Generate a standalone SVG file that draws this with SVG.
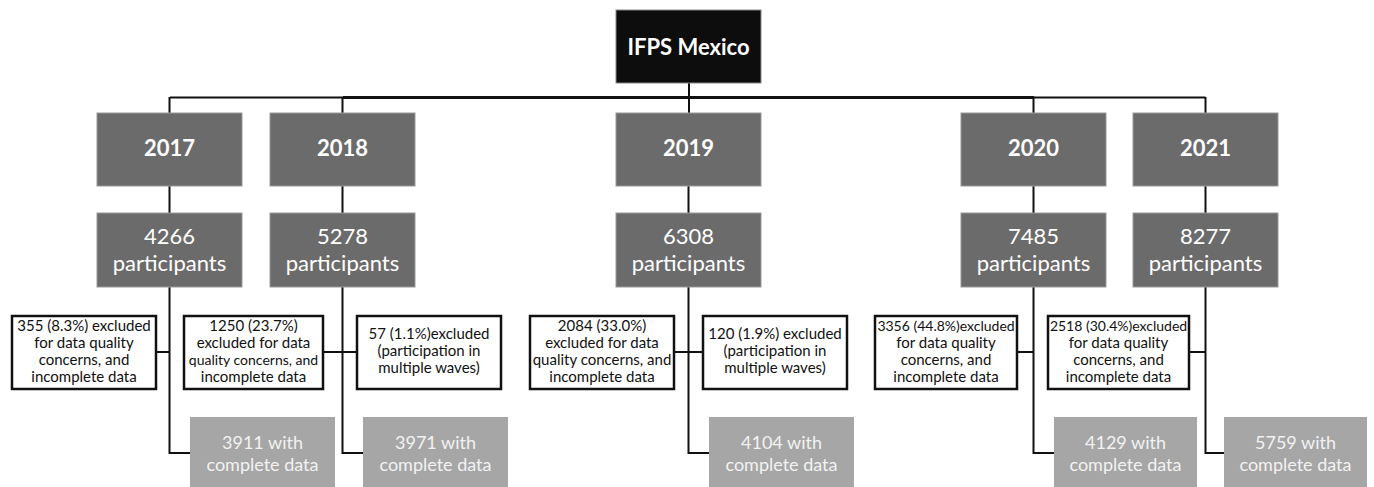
<svg xmlns="http://www.w3.org/2000/svg" width="1374" height="487" viewBox="0 0 1374 487">
<style>
.top{fill:#0d0d0d;stroke:#888;stroke-width:1}
.dark{fill:#6b6b6b;stroke:#999;stroke-width:1}
.exc{fill:#fff;stroke:#111;stroke-width:2.5}
.light{fill:#a6a6a6}
.t{font-family:Lato,"Liberation Sans",sans-serif;text-anchor:middle}
.tw{fill:#fff}
.yr{font-size:22px;font-weight:bold}
.pp{font-size:22px}
.ex{font-size:15px;fill:#111}
.sm{font-size:14px}
.cd{font-size:18px;fill:#f2f2f2}
.ln{fill:none;stroke:#111;stroke-width:2}
</style>
<g id="connectors">
<path class="ln" d="M689 83V113"/>
<path class="ln" d="M170 97.5H1205.5"/>
<path class="ln" style="stroke-width:3" d="M343 97.5H1034"/>
<path class="ln" d="M169.5 97V113M342.5 97V113M1033.5 97V113M1205.5 97V113"/>
<path class="ln" d="M169.5 186V213M342.5 186V213M688.5 186V213M1033.5 186V213M1205.5 186V213"/>
<path class="ln" d="M169.5 287V453H190"/>
<path class="ln" d="M342.5 287V453H363"/>
<path class="ln" d="M688.5 287V453H709"/>
<path class="ln" d="M1033.5 287V453H1054"/>
<path class="ln" d="M1205.5 287V453H1224"/>
<path class="ln" d="M156 352H169.5"/>
<path class="ln" d="M323 352H357"/>
<path class="ln" d="M674 352H703"/>
<path class="ln" d="M1017 352H1033.5"/>
<path class="ln" d="M1189 352H1205.5"/>
</g>
<g id="root"><rect class="top" x="616" y="10" width="145" height="73"/><text class="t tw yr" x="688.5" y="55">IFPS Mexico</text></g>
<g id="y2017"><rect class="dark" x="97" y="113" width="145" height="73"/><text class="t tw yr" x="169.5" y="156">2017</text></g>
<g id="y2018"><rect class="dark" x="270" y="113" width="145" height="73"/><text class="t tw yr" x="342.5" y="156">2018</text></g>
<g id="y2019"><rect class="dark" x="616" y="113" width="145" height="73"/><text class="t tw yr" x="688.5" y="156">2019</text></g>
<g id="y2020"><rect class="dark" x="961" y="113" width="145" height="73"/><text class="t tw yr" x="1033.5" y="156">2020</text></g>
<g id="y2021"><rect class="dark" x="1133" y="113" width="145" height="73"/><text class="t tw yr" x="1205.5" y="156">2021</text></g>
<g id="p2017"><rect class="dark" x="97" y="213" width="145" height="74"/><text class="t tw pp" x="169.5" y="244">4266</text><text class="t tw pp" x="169.5" y="271">participants</text></g>
<g id="p2018"><rect class="dark" x="270" y="213" width="145" height="74"/><text class="t tw pp" x="342.5" y="244">5278</text><text class="t tw pp" x="342.5" y="271">participants</text></g>
<g id="p2019"><rect class="dark" x="616" y="213" width="145" height="74"/><text class="t tw pp" x="688.5" y="244">6308</text><text class="t tw pp" x="688.5" y="271">participants</text></g>
<g id="p2020"><rect class="dark" x="961" y="213" width="145" height="74"/><text class="t tw pp" x="1033.5" y="244">7485</text><text class="t tw pp" x="1033.5" y="271">participants</text></g>
<g id="p2021"><rect class="dark" x="1133" y="213" width="145" height="74"/><text class="t tw pp" x="1205.5" y="244">8277</text><text class="t tw pp" x="1205.5" y="271">participants</text></g>
<g id="e2017"><rect class="exc" x="12" y="316" width="144" height="73"/><text class="t ex" x="84" y="331">355 (8.3%) excluded</text><text class="t ex" x="84" y="348">for data quality</text><text class="t ex" x="84" y="365">concerns, and</text><text class="t ex" x="84" y="382">incomplete data</text></g>
<g id="e2018a"><rect class="exc" x="184" y="316" width="139" height="73"/><text class="t ex" x="253.5" y="331">1250  (23.7%)</text><text class="t ex" x="253.5" y="348">excluded for data</text><text class="t ex sm" x="253.5" y="365">quality concerns, and</text><text class="t ex" x="253.5" y="382">incomplete data</text></g>
<g id="e2018b"><rect class="exc" x="357" y="316" width="144" height="73"/><text class="t ex" x="429" y="339">57 (1.1%)excluded</text><text class="t ex" x="429" y="356">(participation in</text><text class="t ex" x="429" y="373">multiple waves)</text></g>
<g id="e2019a"><rect class="exc" x="530" y="316" width="144" height="73"/><text class="t ex" x="602" y="331">2084  (33.0%)</text><text class="t ex" x="602" y="348">excluded for data</text><text class="t ex" x="602" y="365">quality concerns, and</text><text class="t ex" x="602" y="382">incomplete data</text></g>
<g id="e2019b"><rect class="exc" x="703" y="316" width="144" height="73"/><text class="t ex" x="775" y="339">120 (1.9%) excluded</text><text class="t ex" x="775" y="356">(participation in</text><text class="t ex" x="775" y="373">multiple waves)</text></g>
<g id="e2020"><rect class="exc" x="875" y="316" width="142" height="73"/><text class="t ex sm" x="946" y="331">3356 (44.8%)excluded</text><text class="t ex" x="946" y="348">for data quality</text><text class="t ex" x="946" y="365">concerns, and</text><text class="t ex" x="946" y="382">incomplete data</text></g>
<g id="e2021"><rect class="exc" x="1048" y="316" width="141" height="73"/><text class="t ex sm" x="1118.5" y="331">2518 (30.4%)excluded</text><text class="t ex" x="1118.5" y="348">for data quality</text><text class="t ex" x="1118.5" y="365">concerns, and</text><text class="t ex" x="1118.5" y="382">incomplete data</text></g>
<g id="c2017"><rect class="light" x="190" y="417" width="145" height="72"/><text class="t cd" x="262.5" y="449">3911 with</text><text class="t cd" x="262.5" y="471">complete data</text></g>
<g id="c2018"><rect class="light" x="363" y="417" width="145" height="72"/><text class="t cd" x="435.5" y="449">3971 with</text><text class="t cd" x="435.5" y="471">complete data</text></g>
<g id="c2019"><rect class="light" x="709" y="417" width="145" height="72"/><text class="t cd" x="781.5" y="449">4104 with</text><text class="t cd" x="781.5" y="471">complete data</text></g>
<g id="c2020"><rect class="light" x="1054" y="417" width="143" height="72"/><text class="t cd" x="1125.5" y="449">4129 with</text><text class="t cd" x="1125.5" y="471">complete data</text></g>
<g id="c2021"><rect class="light" x="1224" y="417" width="143" height="72"/><text class="t cd" x="1295.5" y="449">5759 with</text><text class="t cd" x="1295.5" y="471">complete data</text></g>
</svg>
